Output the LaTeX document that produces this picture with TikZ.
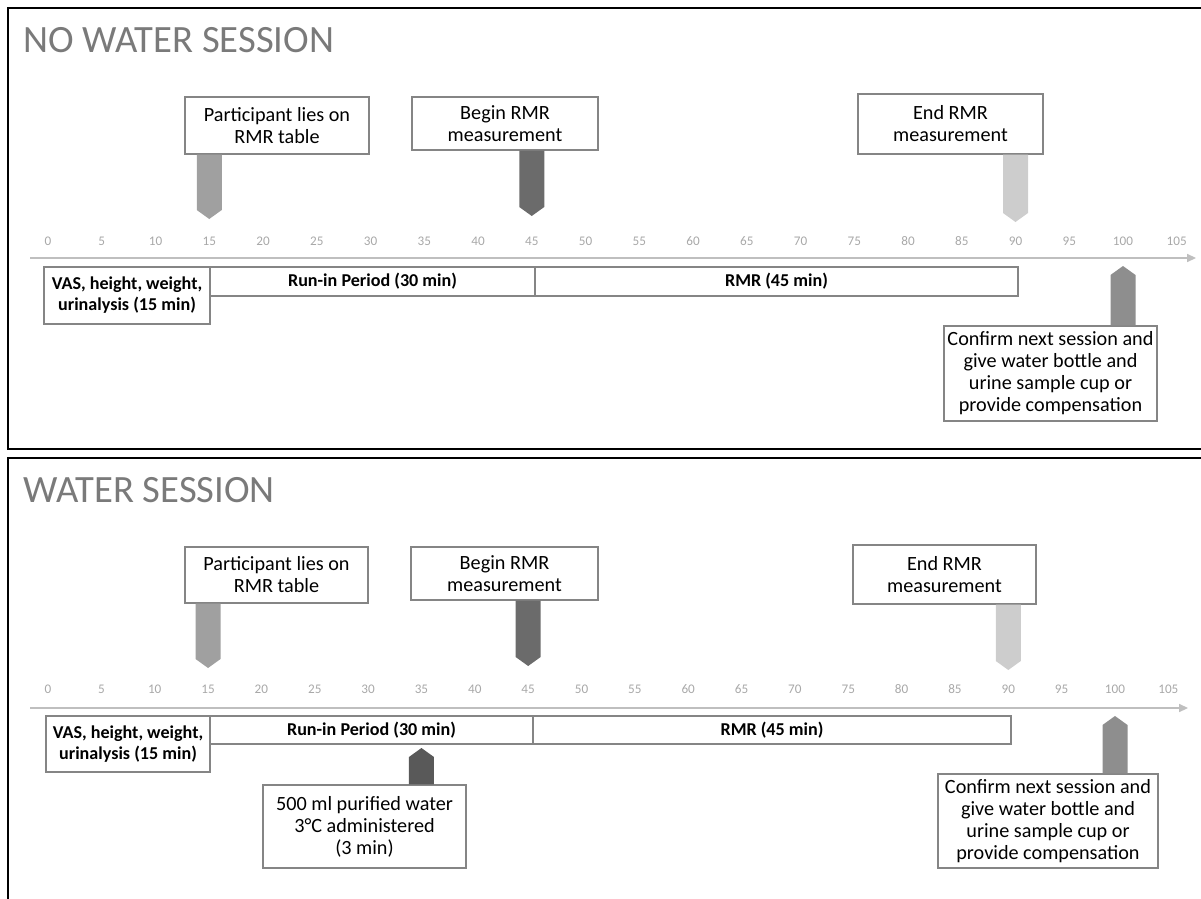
\documentclass[tikz,border=0pt]{standalone}
\usepackage{fontspec}
\setmainfont{Carlito}
\usepackage{tikz}
\definecolor{titlegrey}{HTML}{7A7A7A}
\definecolor{tickgrey}{HTML}{A8A8A8}
\definecolor{axisgrey}{HTML}{BFBFBF}
\definecolor{edgegrey}{HTML}{858585}
\definecolor{liesgrey}{HTML}{A0A0A0}
\definecolor{begingrey}{HTML}{6B6B6B}
\definecolor{endgrey}{HTML}{CDCDCD}
\definecolor{confgrey}{HTML}{8E8E8E}
\definecolor{watergrey}{HTML}{595959}
\usetikzlibrary{calc,arrows.meta}

\tikzset{
  title/.style={anchor=base west,inner sep=0pt,text=titlegrey,
    font=\fontsize{22}{26}\selectfont},
  tick/.style={text=tickgrey,inner sep=0pt,font=\fontsize{7.5}{9}\selectfont},
  axis/.style={draw=axisgrey,line width=0.9pt,-{Triangle[length=5pt,width=4.5pt]}},
  frame/.style={draw=black,line width=1.2pt},
  period/.style={rectangle,draw=edgegrey,fill=white,line width=0.8pt,
    inner sep=0pt,align=center,font=\bfseries\fontsize{10.3}{12}\selectfont},
  callout/.style={rectangle,draw=edgegrey,fill=white,line width=0.8pt,
    inner sep=0pt,align=center,font=\fontsize{11.5}{12.5}\selectfont}
}

% pointer from a box edge to a tip on the time line
\newcommand{\pointer}[4]{%
  \fill[#3] ($(#2 |- #1)+(-12.5,0)$) -- ($(#2 |- #1)+(12.5,0)$)
    -- ($(#2)+(12.5,#4)$) -- (#2) -- ($(#2)+(-12.5,#4)$) -- cycle;}

\begin{document}
\begin{tikzpicture}[x=0.02cm,y=-0.02cm]
  \useasboundingbox (0,0) rectangle (1201,899);

  % ---------------- no water session
  \draw[frame] (1230,449) -- (8,449) -- (8,8) -- (1230,8);
  \node[title] (nwTitle) at (23,52) {NO WATER SESSION};

  \foreach \t in {0,5,...,105}
    \node[tick] (nwT\t) at ({48+10.75*\t},241) {\t};
  \coordinate (nwAxisStart) at (30,258);
  \coordinate (nwAxisEnd) at (1196,258);
  \draw[axis] (nwAxisStart) -- (nwAxisEnd);

  \node[period,minimum width=3.32cm,minimum height=1.14cm] at (127,295.5) (nwVas)
    {VAS, height, weight,\\urinalysis (15 min)};
  \node[period,minimum width=6.5cm,minimum height=0.58cm] at (372.5,281.5) (nwRunin)
    {Run-in Period (30 min)};
  \node[period,minimum width=9.66cm,minimum height=0.58cm] at (776.5,281.5) (nwRmr)
    {RMR (45 min)};

  \node[callout,minimum width=3.68cm,minimum height=1.14cm] at (277,125.5) (nwLies)
    {Participant lies on\\RMR table};
  \node[callout,minimum width=3.72cm,minimum height=1.06cm] at (505,123.5) (nwBegin)
    {Begin RMR\\measurement};
  \node[callout,minimum width=3.7cm,minimum height=1.2cm] at (950.5,124) (nwEnd)
    {End RMR\\measurement};
  \node[callout,minimum width=4.26cm,minimum height=1.9cm] at (1050.5,373.5) (nwConfirm)
    {Confirm next session and\\give water bottle and\\urine sample cup or\\provide compensation};

  \coordinate (nwLiesTip) at ({48+10.75*15},219);
  \coordinate (nwBeginTip) at ({48+10.75*45},216);
  \coordinate (nwEndTip) at ({48+10.75*90},222);
  \coordinate (nwConfirmTip) at ({48+10.75*100},266);
  \pointer{nwLies.south}{nwLiesTip}{liesgrey}{-9}
  \pointer{nwBegin.south}{nwBeginTip}{begingrey}{-9}
  \pointer{nwEnd.south}{nwEndTip}{endgrey}{-9}
  \pointer{nwConfirm.north}{nwConfirmTip}{confgrey}{9}

  % ---------------- water session
  \draw[frame] (8,910) -- (8,458) -- (1230,458);
  \node[title] (wTitle) at (23,502) {WATER SESSION};

  \foreach \t in {0,5,...,105}
    \node[tick] (wT\t) at ({48+10.67*\t},689) {\t};
  \coordinate (wAxisStart) at (30,708);
  \coordinate (wAxisEnd) at (1188,708);
  \draw[axis] (wAxisStart) -- (wAxisEnd);

  \node[period,minimum width=3.28cm,minimum height=1.12cm] at (128,744) (wVas)
    {VAS, height, weight,\\urinalysis (15 min)};
  \node[period,minimum width=6.46cm,minimum height=0.56cm] at (371.5,730) (wRunin)
    {Run-in Period (30 min)};
  \node[period,minimum width=9.56cm,minimum height=0.56cm] at (772,730) (wRmr)
    {RMR (45 min)};

  \node[callout,minimum width=3.66cm,minimum height=1.12cm] at (276.5,575) (wLies)
    {Participant lies on\\RMR table};
  \node[callout,minimum width=3.74cm,minimum height=1.06cm] at (504.5,573.5) (wBegin)
    {Begin RMR\\measurement};
  \node[callout,minimum width=3.66cm,minimum height=1.18cm] at (944.5,574.5) (wEnd)
    {End RMR\\measurement};
  \node[callout,minimum width=4.06cm,minimum height=1.66cm] at (364.5,826.5) (wWater)
    {500 ml purified water\\3°C administered\\(3 min)};
  \node[callout,minimum width=4.4cm,minimum height=1.88cm] at (1048,821) (wConfirm)
    {Confirm next session and\\give water bottle and\\urine sample cup or\\provide compensation};

  \coordinate (wLiesTip) at ({48+10.67*15},668);
  \coordinate (wBeginTip) at ({48+10.67*45},666);
  \coordinate (wEndTip) at ({48+10.67*90},670);
  \coordinate (wWaterTip) at ({48+10.67*35},748);
  \coordinate (wConfirmTip) at ({48+10.67*100},716);
  \pointer{wLies.south}{wLiesTip}{liesgrey}{-9}
  \pointer{wBegin.south}{wBeginTip}{begingrey}{-9}
  \pointer{wEnd.south}{wEndTip}{endgrey}{-9}
  \pointer{wWater.north}{wWaterTip}{watergrey}{9}
  \pointer{wConfirm.north}{wConfirmTip}{confgrey}{9}

\end{tikzpicture}
\end{document}
